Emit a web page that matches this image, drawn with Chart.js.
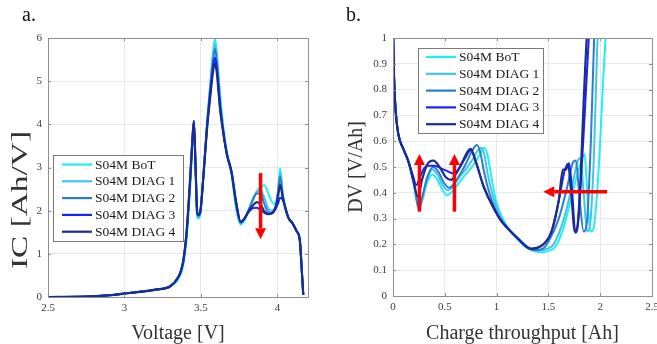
<!DOCTYPE html>
<html>
<head>
<meta charset="utf-8">
<script src="https://cdn.jsdelivr.net/npm/chart.js@4/dist/chart.umd.min.js"></script>
<style>
  html, body { margin:0; padding:0; background:#fff; }
  body { width:657px; height:344px; position:relative; overflow:hidden; }
  .wrap { position:absolute; top:0; height:344px; }
  .panel { position:absolute; font-family:"Liberation Serif","DejaVu Serif",serif; font-size:20px; line-height:20px; color:#111; top:4px; }
</style>
</head>
<body>
<div class="wrap" style="left:0;width:330px;"><canvas id="ca" width="330" height="344"></canvas></div>
<div class="wrap" style="left:330px;width:327px;"><canvas id="cb" width="327" height="344"></canvas></div>
<div class="panel" style="left:22px;">a.</div>
<div class="panel" style="left:346px;">b.</div>
<script>
// ---------- Series names and colours ----------
const seriesNames = ["S04M BoT", "S04M DIAG 1", "S04M DIAG 2", "S04M DIAG 3", "S04M DIAG 4"];
const seriesColors = ["#1ff0f2", "#45c3ef", "#2a7fcb", "#1a22f5", "#1b2b8e"];

// ---------- Panel a: IC vs Voltage ----------
const voltage = [2.5, 2.7, 2.8, 2.9, 3.0, 3.1, 3.2, 3.3, 3.35, 3.37, 3.385, 3.405, 3.428, 3.445, 3.454, 3.465, 3.476, 3.485, 3.497, 3.515, 3.54, 3.56, 3.58, 3.592, 3.605, 3.625, 3.646, 3.67, 3.70, 3.73, 3.76, 3.785, 3.81, 3.84, 3.865, 3.89, 3.915, 3.94, 3.965, 3.99, 4.005, 4.018, 4.035, 4.07, 4.10, 4.125, 4.147, 4.158, 4.169];
const icBoT   = [0, 0.005, 0.015, 0.04, 0.08, 0.12, 0.17, 0.24, 0.4, 0.55, 0.75, 1.3, 2.45, 3.55, 3.95, 2.9, 1.85, 1.82, 1.95, 2.75, 4.05, 4.9, 5.7, 5.98, 5.6, 4.7, 3.95, 3.35, 2.85, 2.05, 1.68, 1.78, 1.98, 2.25, 2.45, 2.56, 2.59, 2.4, 2.2, 2.15, 2.45, 2.98, 2.4, 1.87, 1.7, 1.53, 1.3, 0.7, 0.05];
const icDiag1 = [0, 0.005, 0.015, 0.04, 0.08, 0.12, 0.17, 0.25, 0.43, 0.58, 0.8, 1.38, 2.55, 3.62, 4.0, 2.95, 1.88, 1.85, 1.98, 2.75, 4.0, 4.85, 5.6, 5.85, 5.5, 4.6, 3.9, 3.3, 2.85, 2.1, 1.7, 1.8, 2.0, 2.28, 2.44, 2.47, 2.3, 2.05, 2.0, 2.15, 2.5, 2.88, 2.35, 1.85, 1.7, 1.53, 1.3, 0.7, 0.05];
const icDiag2 = [0, 0.005, 0.015, 0.04, 0.08, 0.12, 0.17, 0.25, 0.44, 0.6, 0.83, 1.42, 2.6, 3.68, 4.05, 3.0, 1.92, 1.88, 2.0, 2.75, 4.0, 4.8, 5.5, 5.75, 5.4, 4.5, 3.85, 3.3, 2.88, 2.15, 1.72, 1.82, 2.0, 2.25, 2.4, 2.4, 2.15, 1.97, 1.95, 2.1, 2.45, 2.8, 2.35, 1.85, 1.7, 1.53, 1.3, 0.7, 0.05];
const icDiag3 = [0, 0.005, 0.015, 0.04, 0.08, 0.12, 0.17, 0.25, 0.45, 0.62, 0.85, 1.45, 2.65, 3.7, 4.08, 3.0, 1.95, 1.9, 2.0, 2.75, 3.95, 4.7, 5.35, 5.55, 5.25, 4.4, 3.82, 3.3, 2.9, 2.2, 1.74, 1.82, 1.96, 2.06, 2.07, 2.02, 1.95, 1.92, 1.95, 2.05, 2.18, 2.3, 2.25, 1.85, 1.7, 1.53, 1.3, 0.7, 0.05];
const icDiag4 = [0, 0.005, 0.015, 0.04, 0.08, 0.12, 0.17, 0.25, 0.45, 0.62, 0.85, 1.45, 2.65, 3.7, 4.08, 3.0, 1.95, 1.9, 2.0, 2.75, 3.9, 4.6, 5.25, 5.42, 5.15, 4.35, 3.8, 3.3, 2.9, 2.2, 1.74, 1.82, 1.98, 2.12, 2.2, 2.15, 1.98, 1.92, 1.94, 2.1, 2.35, 2.6, 2.3, 1.85, 1.7, 1.53, 1.3, 0.7, 0.05];
const xTicksA = [2.5, 3, 3.5, 4];
const yTicksA = [0, 1, 2, 3, 4, 5, 6];
// arrow: [xFrom, yFrom, xTo, yTo]
const arrowsA = [[3.89, 2.87, 3.89, 1.34]];

// ---------- Panel b: DV vs Charge throughput ----------
const qBoT   = [0, 0.01, 0.025, 0.05, 0.1, 0.15, 0.2, 0.235, 0.255, 0.28, 0.33, 0.38, 0.43, 0.48, 0.52, 0.56, 0.62, 0.7, 0.78, 0.84, 0.88, 0.91, 0.95, 1.0, 1.1, 1.2, 1.3, 1.43, 1.5, 1.567, 1.65, 1.72, 1.8, 1.85, 1.875, 1.905, 1.935, 1.97, 2.0, 2.03, 2.06];
const dvBoT  = [1.05, 0.85, 0.72, 0.63, 0.57, 0.52, 0.44, 0.37, 0.34, 0.37, 0.44, 0.47, 0.45, 0.41, 0.39, 0.40, 0.43, 0.47, 0.51, 0.55, 0.575, 0.55, 0.46, 0.36, 0.27, 0.22, 0.185, 0.17, 0.175, 0.19, 0.27, 0.38, 0.5, 0.55, 0.4, 0.25, 0.26, 0.4, 0.6, 0.85, 1.05];
const qDiag1  = [0, 0.01, 0.025, 0.05, 0.1, 0.15, 0.2, 0.232, 0.252, 0.28, 0.33, 0.38, 0.43, 0.48, 0.53, 0.57, 0.62, 0.7, 0.77, 0.82, 0.85, 0.88, 0.92, 0.97, 1.04, 1.1, 1.2, 1.3, 1.4, 1.5, 1.55, 1.65, 1.73, 1.79, 1.81, 1.84, 1.875, 1.90, 1.94, 1.97, 1.98];
const dvDiag1 = [1.05, 0.85, 0.72, 0.63, 0.57, 0.52, 0.44, 0.36, 0.33, 0.37, 0.45, 0.49, 0.47, 0.43, 0.41, 0.42, 0.45, 0.49, 0.53, 0.565, 0.575, 0.55, 0.46, 0.38, 0.305, 0.27, 0.225, 0.19, 0.175, 0.185, 0.2, 0.3, 0.43, 0.53, 0.535, 0.4, 0.25, 0.27, 0.55, 0.95, 1.05];
const qDiag2  = [0, 0.01, 0.025, 0.05, 0.1, 0.15, 0.2, 0.23, 0.25, 0.28, 0.33, 0.39, 0.44, 0.49, 0.54, 0.58, 0.63, 0.7, 0.76, 0.81, 0.84, 0.88, 0.93, 1.03, 1.1, 1.2, 1.3, 1.36, 1.45, 1.5, 1.6, 1.68, 1.74, 1.765, 1.80, 1.84, 1.87, 1.91, 1.94, 1.95];
const dvDiag2 = [1.05, 0.85, 0.72, 0.63, 0.57, 0.52, 0.44, 0.37, 0.34, 0.38, 0.46, 0.50, 0.48, 0.44, 0.42, 0.43, 0.46, 0.51, 0.56, 0.585, 0.56, 0.48, 0.40, 0.30, 0.265, 0.225, 0.19, 0.178, 0.185, 0.21, 0.3, 0.42, 0.52, 0.525, 0.38, 0.25, 0.28, 0.6, 0.98, 1.05];
const qDiag3  = [0, 0.01, 0.025, 0.05, 0.1, 0.15, 0.19, 0.225, 0.26, 0.3, 0.34, 0.4, 0.46, 0.52, 0.58, 0.63, 0.69, 0.75, 0.8, 0.87, 0.935, 1.03, 1.1, 1.2, 1.33, 1.45, 1.53, 1.6, 1.66, 1.70, 1.73, 1.76, 1.78, 1.81, 1.85, 1.89, 1.90];
const dvDiag3 = [1.05, 0.85, 0.72, 0.63, 0.57, 0.52, 0.47, 0.43, 0.46, 0.495, 0.505, 0.505, 0.495, 0.485, 0.475, 0.49, 0.53, 0.565, 0.52, 0.43, 0.37, 0.30, 0.265, 0.225, 0.183, 0.2, 0.25, 0.37, 0.49, 0.515, 0.4, 0.245, 0.26, 0.42, 0.7, 1.0, 1.05];
const qDiag4  = [0, 0.01, 0.025, 0.05, 0.1, 0.15, 0.2, 0.24, 0.28, 0.33, 0.39, 0.45, 0.51, 0.56, 0.61, 0.67, 0.72, 0.75, 0.8, 0.87, 0.935, 1.03, 1.1, 1.2, 1.33, 1.45, 1.53, 1.6, 1.64, 1.67, 1.69, 1.72, 1.755, 1.78, 1.81, 1.84, 1.87, 1.88];
const dvDiag4 = [1.05, 0.85, 0.72, 0.63, 0.57, 0.52, 0.44, 0.385, 0.45, 0.51, 0.525, 0.5, 0.46, 0.45, 0.475, 0.52, 0.56, 0.57, 0.52, 0.43, 0.37, 0.30, 0.265, 0.225, 0.183, 0.2, 0.25, 0.37, 0.49, 0.49, 0.51, 0.4, 0.25, 0.27, 0.45, 0.75, 1.0, 1.05];
const xTicksB = [0, 0.5, 1, 1.5, 2, 2.5];
const yTicksB = [0, 0.1, 0.2, 0.3, 0.4, 0.5, 0.6, 0.7, 0.8, 0.9, 1];
const arrowsB = [[0.255, 0.327, 0.255, 0.55], [0.593, 0.327, 0.593, 0.55], [2.067, 0.404, 1.45, 0.404]];

// ---------- helpers ----------
const SERIF = '"Liberation Serif", "Times New Roman", serif';
function pts(xs, ys) { return xs.map((x, i) => ({ x: x, y: ys[i] })); }
function makeDatasets(pairs) {
  return pairs.map((p, i) => ({
    label: seriesNames[i],
    data: pts(p[0], p[1]),
    borderColor: seriesColors[i],
    backgroundColor: seriesColors[i],
    borderWidth: i === 4 ? 2.2 : 2,
    pointRadius: 0,
    cubicInterpolationMode: 'monotone',
    borderJoinStyle: 'round',
    fill: false,
    order: 4 - i
  }));
}

const framePlugin = {
  id: 'frame',
  afterDatasetsDraw(chart) {
    const { ctx, chartArea: a, scales } = chart;
    ctx.save();
    ctx.strokeStyle = '#8f8f8f';
    ctx.lineWidth = 1;
    ctx.beginPath();
    const L = 3;
    scales.x.ticks.forEach(t => {
      const px = Math.round(scales.x.getPixelForValue(t.value)) + 0.5;
      ctx.moveTo(px, a.bottom); ctx.lineTo(px, a.bottom - L);
      ctx.moveTo(px, a.top); ctx.lineTo(px, a.top + L);
    });
    scales.y.ticks.forEach(t => {
      const py = Math.round(scales.y.getPixelForValue(t.value)) + 0.5;
      ctx.moveTo(a.left, py); ctx.lineTo(a.left + L, py);
      ctx.moveTo(a.right, py); ctx.lineTo(a.right - L, py);
    });
    ctx.stroke();
    ctx.strokeRect(Math.round(a.left) + 0.5, Math.round(a.top) + 0.5, Math.round(a.right - a.left), Math.round(a.bottom - a.top));
    ctx.restore();
  }
};

const arrowPlugin = {
  id: 'arrows',
  afterDraw(chart, args, opts) {
    const { ctx, scales } = chart;
    (opts.list || []).forEach(ar => {
      const x0 = scales.x.getPixelForValue(ar[0]), y0 = scales.y.getPixelForValue(ar[1]);
      const x1 = scales.x.getPixelForValue(ar[2]), y1 = scales.y.getPixelForValue(ar[3]);
      const ang = Math.atan2(y1 - y0, x1 - x0);
      const hl = 11, hw = 5.5;
      const bx = x1 - hl * Math.cos(ang), by = y1 - hl * Math.sin(ang);
      ctx.save();
      ctx.strokeStyle = '#ff0000'; ctx.fillStyle = '#ff0000';
      ctx.lineWidth = 3.5;
      ctx.beginPath(); ctx.moveTo(x0, y0); ctx.lineTo(bx, by); ctx.stroke();
      ctx.beginPath();
      ctx.moveTo(x1, y1);
      ctx.lineTo(bx + hw * Math.sin(ang), by - hw * Math.cos(ang));
      ctx.lineTo(bx - hw * Math.sin(ang), by + hw * Math.cos(ang));
      ctx.closePath(); ctx.fill();
      ctx.restore();
    });
  }
};

const boxLegendPlugin = {
  id: 'boxLegend',
  afterDraw(chart, args, o) {
    const { ctx } = chart;
    ctx.save();
    ctx.fillStyle = '#ffffff';
    ctx.fillRect(o.x, o.y, o.w, o.h);
    ctx.strokeStyle = '#7a7a7a'; ctx.lineWidth = 1;
    ctx.strokeRect(o.x + 0.5, o.y + 0.5, o.w, o.h);
    ctx.font = '13.5px ' + SERIF;
    ctx.textBaseline = 'middle';
    ctx.fillStyle = '#1a1a1a';
    chart.data.datasets.forEach((ds, i) => {
      const yy = o.y + o.first + i * o.step;
      ctx.strokeStyle = ds.borderColor; ctx.lineWidth = 2.2;
      ctx.beginPath(); ctx.moveTo(o.x + o.l0, yy); ctx.lineTo(o.x + o.l1, yy); ctx.stroke();
      ctx.fillText(ds.label, o.x + o.tx, yy + 0.5);
    });
    ctx.restore();
  }
};

// Vertical axis title drawn at a given centre (used for panel a, whose label is elongated)
const stretchedYTitle = {
  id: 'stretchedYTitle',
  afterDraw(chart, args, o) {
    if (!o || !o.text) return;
    const { ctx } = chart;
    ctx.save();
    ctx.translate(o.cx, o.cy);
    ctx.rotate(-Math.PI / 2);
    ctx.scale(o.stretch, 1);
    ctx.font = o.size + 'px ' + SERIF;
    ctx.fillStyle = '#333333';
    ctx.textAlign = 'center';
    ctx.textBaseline = 'middle';
    ctx.fillText(o.text, 0, 0);
    ctx.restore();
  }
};

function axisCfg(ticksArr, min, max, title, fitSize, isX, titlePad, showTitle) {
  return {
    type: 'linear', min: min, max: max,
    afterBuildTicks: s => { s.ticks = ticksArr.map(v => ({ value: v })); },
    afterFit: s => {
      if (isX) { s.height = fitSize; s.paddingLeft = 0; s.paddingRight = 0; }
      else { s.width = fitSize; s.paddingTop = 0; s.paddingBottom = 0; }
    },
    grid: { color: '#e9e9e9', lineWidth: 1, drawTicks: false },
    border: { display: false },
    ticks: {
      color: '#3c3c3c', font: { family: SERIF, size: 11 }, padding: isX ? 5 : 6,
      callback: v => String(+v.toFixed(2))
    },
    title: {
      display: showTitle, text: title, color: '#333333',
      font: { family: SERIF, size: 20, lineHeight: 1 },
      padding: titlePad
    }
  };
}

Chart.defaults.animation = false;

new Chart(document.getElementById('ca'), {
  type: 'line',
  data: { datasets: makeDatasets([[voltage, icBoT], [voltage, icDiag1], [voltage, icDiag2], [voltage, icDiag3], [voltage, icDiag4]]) },
  options: {
    responsive: false, animation: false,
    layout: { padding: { left: 0, right: 22, top: 38, bottom: 0 } },
    scales: {
      x: axisCfg(xTicksA, 2.5, 4.2, 'Voltage [V]', 47, true, { top: 0, bottom: 0 }, true),
      y: axisCfg(yTicksA, 0, 6, 'IC [Ah/V]', 48, false, { top: 10, bottom: 0 }, false)
    },
    plugins: {
      legend: { display: false }, tooltip: { enabled: false },
      arrows: { list: arrowsA },
      boxLegend: { x: 53, y: 155, w: 130, h: 86, first: 9.5, step: 16.8, l0: 9, l1: 39, tx: 42 },
      stretchedYTitle: { text: 'IC [Ah/V]', cx: 21, cy: 200, size: 23, stretch: 1.45 }
    }
  },
  plugins: [framePlugin, arrowPlugin, boxLegendPlugin, stretchedYTitle]
});

new Chart(document.getElementById('cb'), {
  type: 'line',
  data: { datasets: makeDatasets([[qBoT, dvBoT], [qDiag1, dvDiag1], [qDiag2, dvDiag2], [qDiag3, dvDiag3], [qDiag4, dvDiag4]]) },
  options: {
    responsive: false, animation: false,
    layout: { padding: { left: 0, right: 5, top: 38, bottom: 0 } },
    scales: {
      x: axisCfg(xTicksB, 0, 2.5, 'Charge throughput [Ah]', 48, true, { top: 0, bottom: 0 }, true),
      y: axisCfg(yTicksB, 0, 1, 'DV [V/Ah]', 63, false, { top: 17, bottom: 0 }, true)
    },
    plugins: {
      legend: { display: false }, tooltip: { enabled: false },
      arrows: { list: arrowsB },
      boxLegend: { x: 88, y: 48, w: 125, h: 85, first: 9, step: 16.8, l0: 8, l1: 38, tx: 41 },
      stretchedYTitle: { text: '' }
    }
  },
  plugins: [framePlugin, arrowPlugin, boxLegendPlugin, stretchedYTitle]
});
</script>
</body>
</html>
